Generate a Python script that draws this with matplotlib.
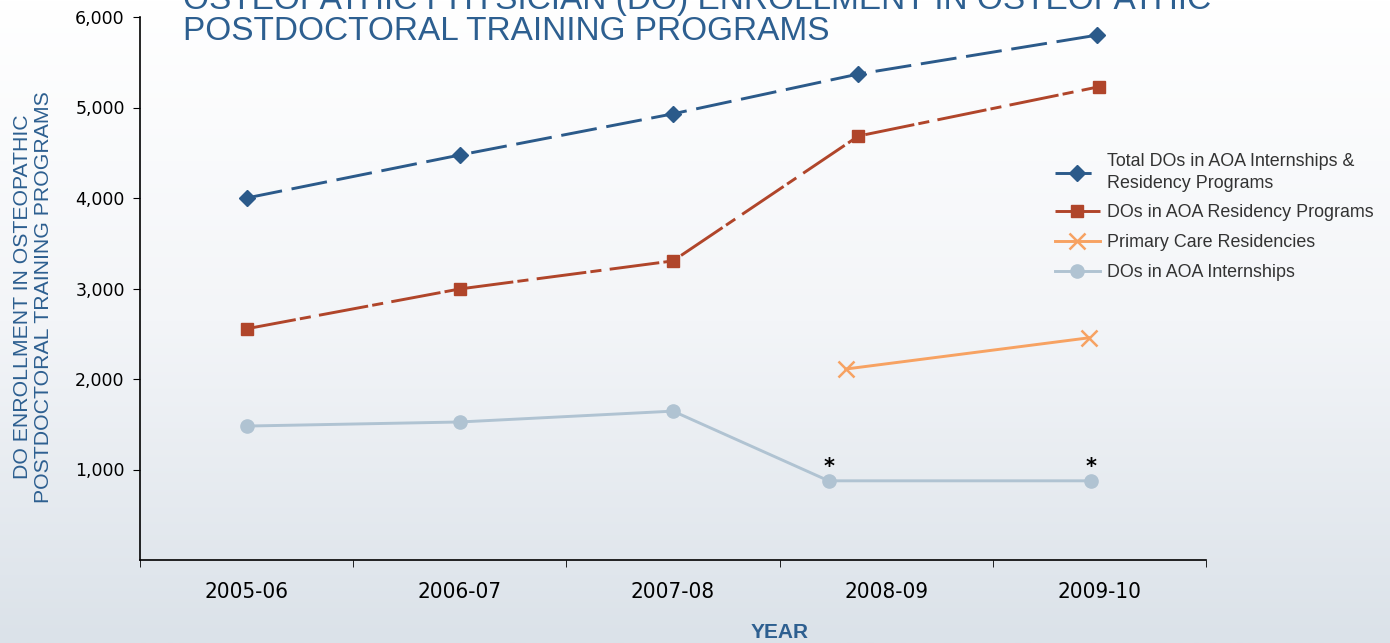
import numpy as np
import matplotlib
matplotlib.use("Agg")
from matplotlib import pyplot as plt

plt.rcParams.update({"font.family": ["Liberation Sans", "DejaVu Sans"],
                     "lines.scale_dashes": False})

years = ["2005-06", "2006-07", "2007-08", "2008-09", "2009-10"]

# x positions (category index) as the points sit in the picture
total_x = [0.0, 1.0, 2.0, 2.87, 3.99]
total = [4000, 4475, 4930, 5370, 5800]

resid_x = [0.0, 1.0, 2.0, 2.87, 4.0]
resid = [2555, 2995, 3305, 4685, 5230]

primary_x = [2.81, 3.95]
primary = [2110, 2455]

intern_x = [0.0, 1.0, 2.0, 2.73, 3.96]
intern = [1480, 1525, 1645, 875, 875]

blue = "#2b5a8a"
rust = "#b0452a"
orange = "#f7a262"
grey = "#b0c3d2"
title_blue = "#2d5f90"

W, H = 1390, 643
fig = plt.figure(figsize=(W / 100, H / 100), dpi=100)

# background gradient
bg = fig.add_axes([0, 0, 1, 1], zorder=-10)
grad = np.linspace(0, 1, 256).reshape(-1, 1)
cmap = matplotlib.colors.LinearSegmentedColormap.from_list("bg", ["#ffffff", "#f3f5f8", "#dbe2e9"])
bg.imshow(grad, aspect="auto", cmap=cmap, extent=[0, 1, 0, 1], origin="upper")
bg.axis("off")

ax = fig.add_axes([140 / W, 1 - 560 / H, 1066 / W, 543 / H])
ax.patch.set_alpha(0)

ax.plot(total_x, total, color=blue, lw=2.1, dashes=(26, 7), marker="D", ms=8,
        label="Total DOs in AOA Internships &\nResidency Programs")
ax.plot(resid_x, resid, color=rust, lw=2.1, dashes=(36, 3, 8, 6), marker="s", ms=8,
        label="DOs in AOA Residency Programs")
ax.plot(primary_x, primary, color=orange, lw=2.1, marker="x", ms=12, mew=1.8,
        label="Primary Care Residencies")
ax.plot(intern_x, intern, color=grey, lw=2.1, marker="o", ms=9.5,
        label="DOs in AOA Internships")

for xi, yi in zip(intern_x[3:], intern[3:]):
    ax.annotate("*", (xi, yi), xytext=(0, 3), textcoords="offset points",
                ha="center", va="bottom", fontsize=15, fontweight="bold",
                family="DejaVu Sans")

ax.set_xlim(-0.5, 4.5)
ax.set_ylim(0, 6000)
yt = [1000, 2000, 3000, 4000, 5000, 6000]
ax.set_yticks(yt)
ax.set_yticklabels([f"{v:,}" for v in yt], family="DejaVu Sans", fontsize=12.5)
ax.set_xticks(range(len(years)))
ax.set_xticklabels(years, fontsize=16, family="DejaVu Sans", fontstretch="condensed")
ax.set_xticks(np.arange(-0.5, 5, 1), minor=True)
ax.tick_params(axis="x", which="major", length=0, pad=16)
ax.tick_params(axis="x", which="minor", length=5, direction="out")
ax.tick_params(axis="y", length=5, direction="out", pad=6)
for s in ["top", "right"]:
    ax.spines[s].set_visible(False)
ax.spines["left"].set_linewidth(1.2)
ax.spines["bottom"].set_linewidth(1.2)

leg = ax.legend(loc="upper left", bbox_to_anchor=(1055 / W, 1 - 153 / H),
                bbox_transform=fig.transFigure, frameon=False, borderpad=0,
                borderaxespad=0, fontsize=12.9, labelspacing=0.72,
                handlelength=2.5, handletextpad=0.4)
for t in leg.get_texts():
    t.set_color("#333333")
    t.set_linespacing(1.35)

fig.text(183 / W, 1 - 40 / H,
         "OSTEOPATHIC PHYSICIAN (DO) ENROLLMENT IN OSTEOPATHIC\nPOSTDOCTORAL TRAINING PROGRAMS",
         color=title_blue, fontsize=24, ha="left", va="baseline", linespacing=1.0)

fig.text(33 / W, 1 - 297 / H,
         "DO ENROLLMENT IN OSTEOPATHIC\nPOSTDOCTORAL TRAINING PROGRAMS",
         color=title_blue, fontsize=15.3, rotation=90, ha="center", va="center",
         linespacing=1.1)
fig.text(780 / W, 1 - 632 / H, "YEAR", color=title_blue, fontsize=15,
         fontweight="bold", ha="center", va="center")

fig.savefig("out.png", dpi=100)
